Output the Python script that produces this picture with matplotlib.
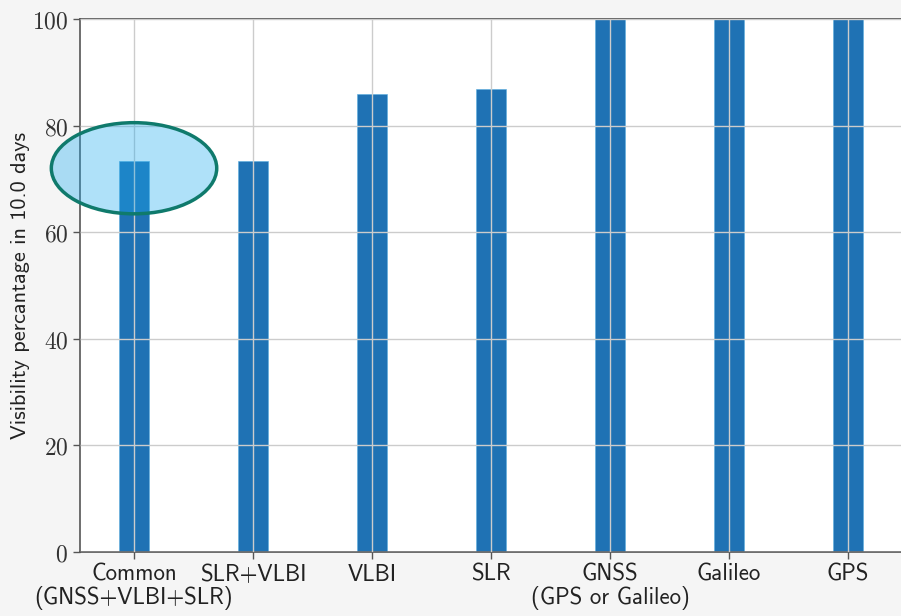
import matplotlib
matplotlib.use("Agg")
import matplotlib.pyplot as plt
from matplotlib.patches import Ellipse
from matplotlib.transforms import blended_transform_factory, offset_copy

categories = ["Common", "SLR+VLBI", "VLBI", "SLR", "GNSS", "Galileo", "GPS"]
subtitles = ["(GNSS+VLBI+SLR)", "", "", "", "(GPS or Galileo)", "", ""]
visibility = [73.3, 73.3, 85.9, 86.8, 100.0, 100.0, 100.0]
y_ticks = [0, 20, 40, 60, 80, 100]

plt.rcParams["mathtext.fontset"] = "cm"

fig = plt.figure(figsize=(9.01, 6.16), dpi=100, facecolor="#f5f5f5")
ax = fig.add_axes([80 / 901, 1 - 552 / 616, 822 / 901, (552 - 19) / 616])
ax.set_facecolor("white")

x = list(range(len(categories)))
ax.bar(x, visibility, width=0.25, color="#1f72b4", edgecolor="#5aaee0",
       linewidth=0.4, zorder=2)

ax.set_xlim(-0.454, 6.454)
ax.set_ylim(0, 100)
ax.set_yticks(y_ticks)
ax.set_yticklabels([rf"${v}$" for v in y_ticks], fontsize=17, color="#333333")
ax.set_xticks(x)
ax.set_xticklabels(categories, family="cmss10", fontsize=16.5, color="#222222")

# second line of the two-part category names
trans = offset_copy(blended_transform_factory(ax.transData, ax.transAxes),
                    fig=fig, x=0, y=-24.5, units="points")
for xi, sub in zip(x, subtitles):
    if sub:
        ax.text(xi, 0, sub, transform=trans, ha="center", va="top",
                family="cmss10", fontsize=16.5, color="#222222")

ax.set_ylabel("Visibility percantage in 10.0 days", family="cmss10",
              fontsize=16, color="#222222")
ax.yaxis.set_label_coords(-50 / 822, 0.5)

ax.grid(True, color="#cccccc", linewidth=1.0, zorder=3)
ax.set_axisbelow(False)
for side in ("left", "bottom", "top"):
    ax.spines[side].set_color("#555555")
    ax.spines[side].set_linewidth(1.2)
ax.spines["right"].set_visible(False)
ax.tick_params(axis="both", color="#555555", width=1.0, length=5)

# highlight around the common-visibility bar
ax.add_patch(Ellipse((0, 72.0), width=1.39, height=17.1,
                     facecolor=(0.11, 0.67, 0.94, 0.35), edgecolor="#0f7a6c",
                     linewidth=2.5, zorder=4, clip_on=False))

fig.savefig("out.png", dpi=100, facecolor=fig.get_facecolor())
